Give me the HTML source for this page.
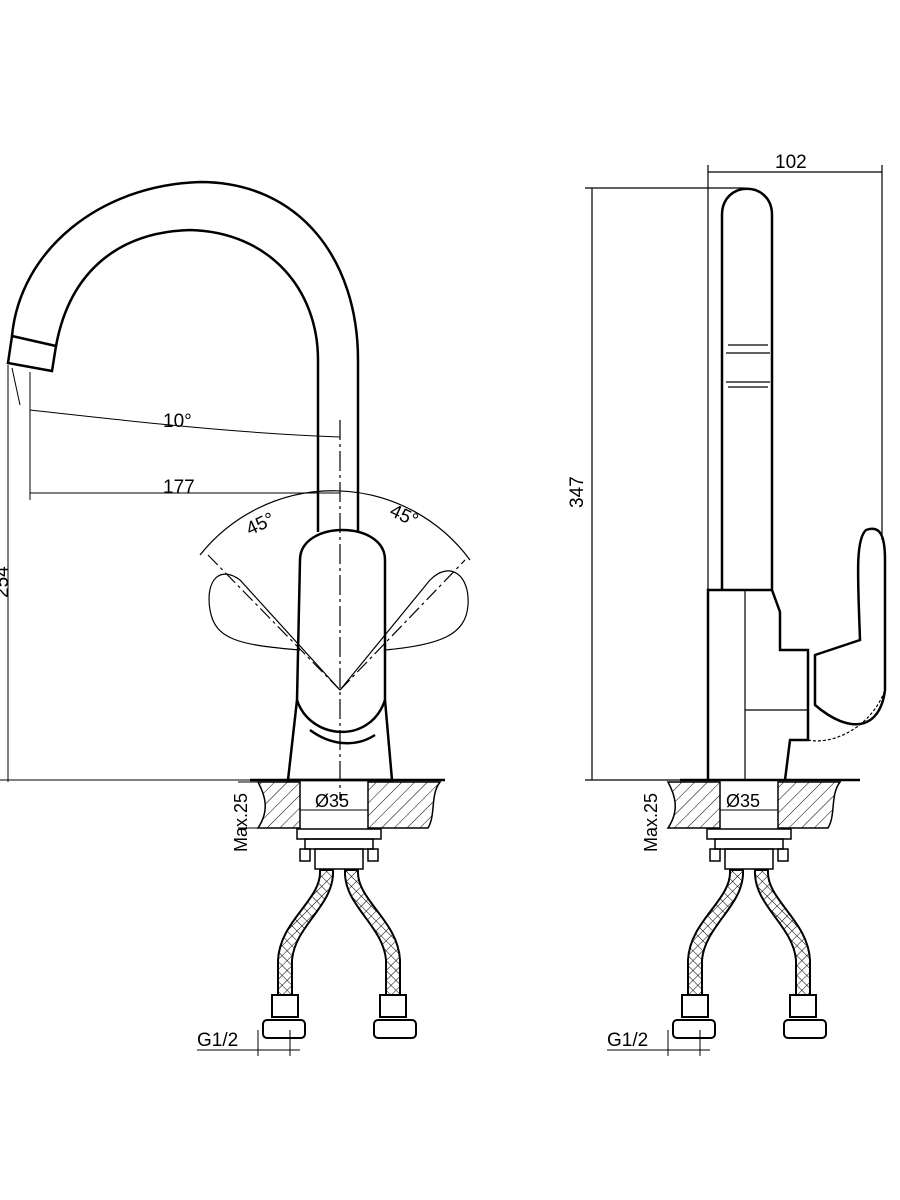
<!DOCTYPE html>
<html><head><meta charset="utf-8"><style>
html,body{margin:0;padding:0;background:#fff;}
svg{display:block;}
text{font-family:"Liberation Sans",sans-serif;fill:#000;}
</style></head><body>
<svg width="900" height="1200" viewBox="0 0 900 1200" xmlns="http://www.w3.org/2000/svg">
<defs>
<pattern id="h" width="9" height="9" patternUnits="userSpaceOnUse" patternTransform="rotate(45)">
<line x1="0" y1="0" x2="0" y2="9" stroke="#000" stroke-width="1"/></pattern>
<pattern id="x" width="7" height="7" patternUnits="userSpaceOnUse" patternTransform="rotate(45)">
<path d="M0 0H7M0 0V7" stroke="#000" stroke-width="1" fill="none"/></pattern>
</defs>
<g fill="none" stroke="#000" stroke-width="2.5">
<!-- LEFT spout -->
<path d="M12 336 C20 250 100 185 200 182 C300 182 358 260 358 360 L358 532"/>
<path d="M56 346 C70 270 120 232 190 230 C270 232 318 290 318 360 L318 532"/>
<path d="M12 336 L56 346 L52 371 L8 363 Z"/>
<!-- body -->
<path d="M300 560 C300 520 385 520 385 560 L385 700 L392 780 L288 780 L297 700 Z"/>
<path d="M297 700 C310 740 370 745 385 700"/>
<path d="M310 730 C330 745 355 748 375 735"/>
<!-- counter -->
<path d="M250 780 L445 780"/>
</g>
<!-- ghost handles -->
<g fill="none" stroke="#000" stroke-width="1.2">
<path d="M340 690 L240 580 C220 565 205 580 210 610 C215 640 240 645 300 650"/>
<path d="M340 690 L430 580 C450 560 470 575 468 605 C466 635 440 645 385 650"/>
<path d="M200 555 A170 170 0 0 1 470 560"/>
<line x1="340" y1="690" x2="208" y2="555" stroke-dasharray="14 4 3 4"/>
<line x1="340" y1="690" x2="465" y2="560" stroke-dasharray="14 4 3 4"/>
<line x1="340" y1="420" x2="340" y2="800" stroke-dasharray="20 4 3 4"/>
</g>
<!-- left dims -->
<g fill="none" stroke="#000" stroke-width="1">
<line x1="8" y1="365" x2="8" y2="782"/>
<line x1="0" y1="780" x2="290" y2="780"/>
<line x1="30" y1="372" x2="30" y2="500"/>
<line x1="30" y1="493" x2="340" y2="493"/>
<path d="M30 410 C120 420 230 433 340 437"/>
<line x1="20" y1="405" x2="12" y2="368"/>
</g>
<text x="163" y="427" font-size="19">10°</text>
<text x="163" y="493" font-size="19">177</text>
<text x="245" y="530" font-size="19" transform="rotate(-25 260 522)">45°</text>
<text x="390" y="522" font-size="19" transform="rotate(25 405 515)">45°</text>
<text x="0" y="590" font-size="19" transform="rotate(-90 8 590)">254</text>
<!-- counter left -->
<path d="M258 782 L300 782 L300 828 L258 828 C270 810 265 795 258 782 Z" fill="url(#h)" stroke="#000" stroke-width="1.5"/>
<path d="M368 782 L440 782 C430 795 436 815 428 828 L368 828 Z" fill="url(#h)" stroke="#000" stroke-width="1.5"/>
<line x1="300" y1="782" x2="300" y2="828" stroke="#000"/>
<line x1="368" y1="782" x2="368" y2="828" stroke="#000"/>
<line x1="300" y1="810" x2="368" y2="810" stroke="#000"/>
<text x="315" y="807" font-size="18">Ø35</text>
<text x="240" y="845" font-size="18" transform="rotate(-90 247 845)">Max.25</text>
<line x1="238" y1="782" x2="258" y2="782" stroke="#000"/>
<line x1="238" y1="828" x2="258" y2="828" stroke="#000"/>
<!-- fittings left -->
<g fill="none" stroke="#000" stroke-width="1.5">
<rect x="297" y="829" width="84" height="10"/>
<rect x="305" y="839" width="68" height="10"/>
<rect x="300" y="849" width="10" height="12"/><rect x="368" y="849" width="10" height="12"/>
<rect x="315" y="849" width="48" height="20"/>
</g>
<path d="M320 870 C322 900 280 920 278 960 L278 995 L292 995 L292 960 C295 925 335 905 333 870 Z" fill="url(#x)" stroke="#000" stroke-width="2"/>
<path d="M358 870 C356 900 398 920 400 960 L400 995 L386 995 L386 960 C383 925 343 905 345 870 Z" fill="url(#x)" stroke="#000" stroke-width="2"/>
<g fill="#fff" stroke="#000" stroke-width="2">
<rect x="272" y="995" width="26" height="22"/><rect x="263" y="1020" width="42" height="18" rx="4"/>
<rect x="380" y="995" width="26" height="22"/><rect x="374" y="1020" width="42" height="18" rx="4"/>
</g>
<text x="197" y="1046" font-size="19">G1/2</text>
<line x1="197" y1="1050" x2="300" y2="1050" stroke="#000"/>
<line x1="258" y1="1030" x2="258" y2="1056" stroke="#000"/>
<line x1="290" y1="1030" x2="290" y2="1056" stroke="#000"/>
<!-- RIGHT view -->
<g fill="none" stroke="#000" stroke-width="2.5">
<path d="M722 590 L722 215 C722 180 772 180 772 215 L772 590"/>
<path d="M708 780 L708 590 L772 590 L780 612 L780 650 L808 650 L808 740 L790 740 L785 780"/>
<path d="M815 655 L860 640 C858 580 855 540 866 530 C880 525 885 535 885 560 L885 690 C880 730 850 735 815 705 Z"/>
<path d="M680 780 L860 780"/>
</g>
<g fill="none" stroke="#000" stroke-width="1.2">
<line x1="728" y1="345" x2="768" y2="345"/><line x1="726" y1="353" x2="770" y2="353"/>
<line x1="726" y1="382" x2="770" y2="382"/><line x1="728" y1="387" x2="768" y2="387"/>
<line x1="745" y1="590" x2="745" y2="780"/>
<line x1="745" y1="710" x2="808" y2="710"/>
<path d="M808 740 C830 745 870 730 885 690" stroke-dasharray="3 2"/>
<line x1="592" y1="188" x2="592" y2="780"/>
<line x1="585" y1="188" x2="745" y2="188"/>
<line x1="585" y1="780" x2="708" y2="780"/>
<line x1="708" y1="165" x2="708" y2="590"/>
<line x1="882" y1="165" x2="882" y2="540"/>
<line x1="708" y1="172" x2="882" y2="172"/>
</g>
<text x="775" y="168" font-size="19">102</text>
<text x="575" y="500" font-size="19" transform="rotate(-90 583 500)">347</text>
<path d="M668 782 L720 782 L720 828 L668 828 C680 810 675 795 668 782 Z" fill="url(#h)" stroke="#000" stroke-width="1.5"/>
<path d="M778 782 L840 782 C830 795 836 815 828 828 L778 828 Z" fill="url(#h)" stroke="#000" stroke-width="1.5"/>
<line x1="720" y1="810" x2="778" y2="810" stroke="#000"/>
<text x="726" y="807" font-size="18">Ø35</text>
<text x="650" y="845" font-size="18" transform="rotate(-90 657 845)">Max.25</text>
<g fill="none" stroke="#000" stroke-width="1.5">
<rect x="707" y="829" width="84" height="10"/>
<rect x="715" y="839" width="68" height="10"/>
<rect x="710" y="849" width="10" height="12"/><rect x="778" y="849" width="10" height="12"/>
<rect x="725" y="849" width="48" height="20"/>
</g>
<path d="M730 870 C732 900 690 920 688 960 L688 995 L702 995 L702 960 C705 925 745 905 743 870 Z" fill="url(#x)" stroke="#000" stroke-width="2"/>
<path d="M768 870 C766 900 808 920 810 960 L810 995 L796 995 L796 960 C793 925 753 905 755 870 Z" fill="url(#x)" stroke="#000" stroke-width="2"/>
<g fill="#fff" stroke="#000" stroke-width="2">
<rect x="682" y="995" width="26" height="22"/><rect x="673" y="1020" width="42" height="18" rx="4"/>
<rect x="790" y="995" width="26" height="22"/><rect x="784" y="1020" width="42" height="18" rx="4"/>
</g>
<text x="607" y="1046" font-size="19">G1/2</text>
<line x1="607" y1="1050" x2="710" y2="1050" stroke="#000"/>
<line x1="668" y1="1030" x2="668" y2="1056" stroke="#000"/>
<line x1="700" y1="1030" x2="700" y2="1056" stroke="#000"/>
</svg>
</body></html>
